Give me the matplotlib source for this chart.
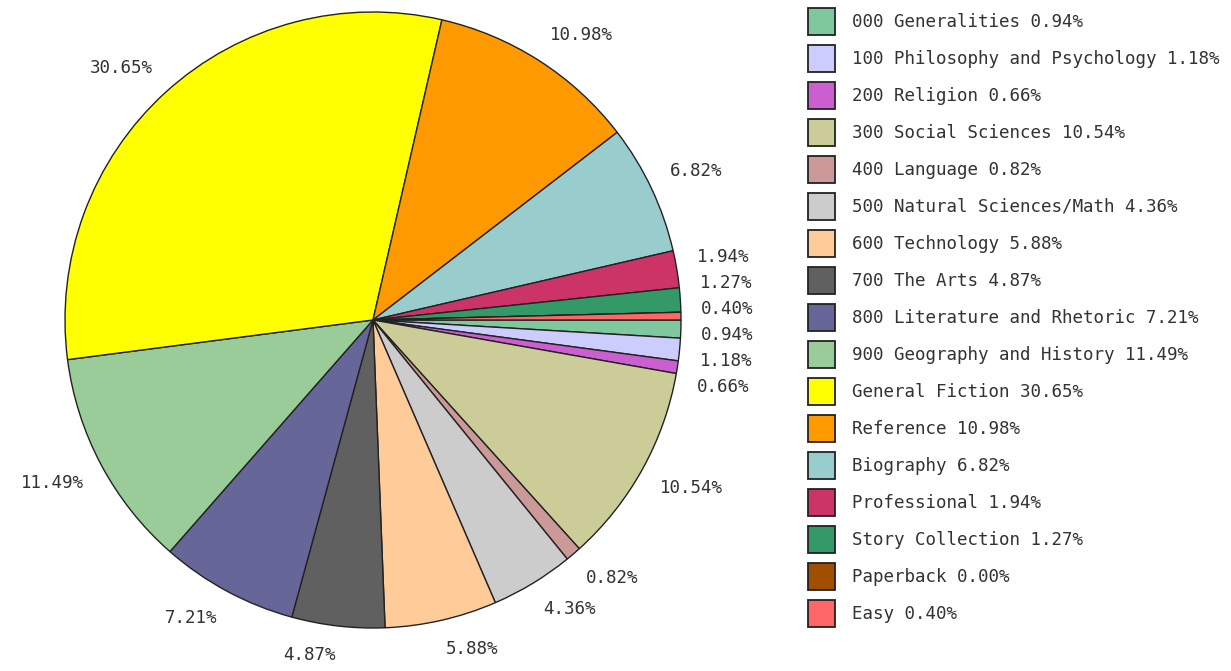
import numpy as np
import matplotlib.pyplot as plt

# Library collection by category (percent of titles)
categories = [
    '000 Generalities', '100 Philosophy and Psychology', '200 Religion',
    '300 Social Sciences', '400 Language', '500 Natural Sciences/Math',
    '600 Technology', '700 The Arts', '800 Literature and Rhetoric',
    '900 Geography and History', 'General Fiction', 'Reference',
    'Biography', 'Professional', 'Story Collection', 'Paperback', 'Easy',
]
percents = [0.94, 1.18, 0.66, 10.54, 0.82, 4.36, 5.88, 4.87, 7.21,
            11.49, 30.65, 10.98, 6.82, 1.94, 1.27, 0.00, 0.40]
colors = ['#7fc79c', '#ccccff', '#cc5fd0', '#cccc99', '#cc9999', '#cccccc',
          '#ffcc99', '#606060', '#666699', '#99cc99', '#ffff00', '#ff9900',
          '#99cccc', '#cc3366', '#339966', '#a04f00', '#ff6666']

W, H = 1231, 671
cx, cy, R = 373, 320, 308   # pie centre / radius in pixels
FS = 12.6

fig = plt.figure(figsize=(W / 100, H / 100), dpi=100)
ax = fig.add_axes([0, 0, 1, 1])

wedges, _ = ax.pie(percents, colors=colors, startangle=0, counterclock=False,
                   radius=1.0, center=(0, 0), frame=True,
                   wedgeprops=dict(edgecolor='#222222', linewidth=1.0))
ax.set_xlim(-cx / R, (W - cx) / R)
ax.set_ylim(-(H - cy) / R, cy / R)
ax.axis('off')

# label anchored by its nearest corner just outside the rim
dist = (R + 20) / R
labels = []
for w, p in zip(wedges, percents):
    if p <= 0:
        continue
    ang = np.deg2rad((w.theta1 + w.theta2) / 2)
    labels.append([dist * np.cos(ang), dist * np.sin(ang), f'{p:.2f}%'])

# spread the crowded labels on the right
gap = 0.085
right = sorted([l for l in labels if l[0] > 0.9], key=lambda l: -l[1])
for _ in range(500):
    moved = False
    for a, b in zip(right[:-1], right[1:]):
        dd = a[1] - b[1]
        if dd < gap - 1e-6:
            s = (gap - dd) / 2
            a[1] += s
            b[1] -= s
            moved = True
    if not moved:
        break

for x, y, txt in labels:
    ha = 'left' if x > 0 else 'right'
    if abs(y) < 0.3 * dist:
        va = 'center'
    else:
        va = 'bottom' if y > 0 else 'top'
    ax.text(x, y, txt, ha=ha, va=va, fontsize=FS,
            family='DejaVu Sans Mono', color='#333333')

leg = ax.legend(wedges, [f'{c} {p:.2f}%' for c, p in zip(categories, percents)],
                loc='upper left', bbox_to_anchor=(808 / W, 1 - 8 / H),
                bbox_transform=fig.transFigure, frameon=False,
                prop=dict(family='DejaVu Sans Mono', size=FS),
                handlelength=1.54, handleheight=1.99, handletextpad=0.95,
                labelspacing=0.575, borderpad=0, borderaxespad=0)
for t in leg.get_texts():
    t.set_color('#333333')
for h in leg.legend_handles:
    h.set_edgecolor('#222222')
    h.set_linewidth(1.3)

fig.savefig('out.png', dpi=100)
